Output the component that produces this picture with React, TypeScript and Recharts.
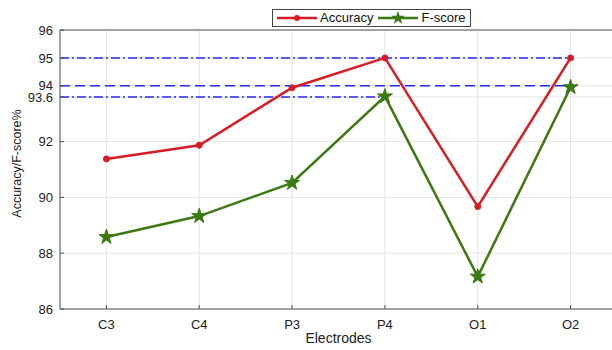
import React from 'react';
import {
  LineChart, Line, XAxis, YAxis, CartesianGrid, ReferenceLine, Symbols,
} from 'recharts';

const categories = ['C3', 'C4', 'P3', 'P4', 'O1', 'O2'];
const accuracy = [91.38, 91.87, 93.93, 95.0, 89.67, 95.0];
const fscore = [88.58, 89.33, 90.52, 93.62, 87.16, 93.95];
const yTicks = [86, 88, 90, 92, 93.6, 94, 95, 96];
const refLevels = [
  { y: 95, until: 'O2', dash: '9 3 2 3' },
  { y: 94, until: 'O2', dash: '10 5' },
  { y: 93.6, until: 'P4', dash: '9 3 2 3' },
];
const seriesNames = ['Accuracy', 'F-score'];

const RED = '#d81c24';
const GREEN = '#3b7a12';
const BLUE = '#2626ff';
const FONT = '"Liberation Sans", Arial, sans-serif';

const rows = categories.map((c, i) => ({ x: i + 1, name: c, accuracy: accuracy[i], fscore: fscore[i] }));

const StarDot = (props: any) => {
  const { cx, cy, index } = props;
  if (cx == null || cy == null) return null;
  return <Symbols key={`s${index}`} cx={cx} cy={cy} type="star" size={70} fill={GREEN} stroke={GREEN} />;
};

const LegendBox = () => (
  <div
    style={{
      position: 'absolute',
      left: 272,
      top: 9,
      border: '1px solid #444',
      background: '#fff',
      display: 'flex',
      alignItems: 'center',
      height: 16,
      padding: '0 4px 0 3px',
      fontFamily: FONT,
      fontSize: 13,
      color: '#111',
      lineHeight: '16px',
      zIndex: 2,
    }}
  >
    <svg width={42} height={16}>
      <line x1={1} y1={8} x2={41} y2={8} stroke={RED} strokeWidth={2.5} />
      <circle cx={21} cy={8} r={3} fill={RED} />
    </svg>
    <span style={{ marginLeft: 2, marginRight: 4 }}>{seriesNames[0]}</span>
    <svg width={42} height={16}>
      <line x1={1} y1={8} x2={41} y2={8} stroke={GREEN} strokeWidth={2.5} />
      <Symbols cx={21} cy={8} type="star" size={60} fill={GREEN} />
    </svg>
    <span style={{ marginLeft: 2 }}>{seriesNames[1]}</span>
  </div>
);

export default function App() {
  return (
    <div style={{ position: 'absolute', left: 0, top: 0, width: 612, height: 350, overflow: 'hidden', background: '#fff' }}>
      <LineChart width={620} height={350} data={rows} margin={{ top: 30, right: 3, bottom: 1, left: 0 }}>
        <CartesianGrid stroke="#e3e3e3" strokeWidth={1} />
        <XAxis
          dataKey="x"
          type="number"
          domain={[0.5, 6.5]}
          ticks={[1, 2, 3, 4, 5, 6]}
          tickFormatter={(v: number) => categories[v - 1]}
          height={40}
          tickSize={-4}
          tickMargin={15}
          stroke="#555"
          tick={{ fill: '#222', fontSize: 13, fontFamily: FONT }}
          label={{ value: 'Electrodes', position: 'insideBottom', offset: 6, fill: '#222', fontSize: 14, fontFamily: FONT }}
        />
        <YAxis
          type="number"
          domain={[86, 96]}
          ticks={yTicks}
          interval={0}
          width={60}
          tickSize={-4}
          tickMargin={11}
          stroke="#555"
          tick={{ fill: '#222', fontSize: 13, fontFamily: FONT }}
          label={{
            value: 'Accuracy/F-score%',
            angle: -90,
            position: 'insideLeft',
            offset: 17,
            dy: -6,
            fill: '#222',
            fontSize: 12.5,
            fontFamily: FONT,
            style: { textAnchor: 'middle' },
          }}
        />
        <ReferenceLine y={96} stroke="#555" strokeWidth={1} />
        <ReferenceLine x={6.5} stroke="#555" strokeWidth={1} />
        {refLevels.map((r) => (
          <ReferenceLine
            key={r.y}
            segment={[{ x: 0.5, y: r.y }, { x: categories.indexOf(r.until) + 1, y: r.y }]}
            stroke={BLUE}
            strokeWidth={1.5}
            strokeDasharray={r.dash}
          />
        ))}
        <Line
          dataKey="accuracy"
          name={seriesNames[0]}
          stroke={RED}
          strokeWidth={2.5}
          dot={{ r: 3, fill: RED, stroke: RED, strokeWidth: 1 }}
          isAnimationActive={false}
        />
        <Line
          dataKey="fscore"
          name={seriesNames[1]}
          stroke={GREEN}
          strokeWidth={2.5}
          dot={<StarDot />}
          isAnimationActive={false}
        />
      </LineChart>
      <LegendBox />
    </div>
  );
}
